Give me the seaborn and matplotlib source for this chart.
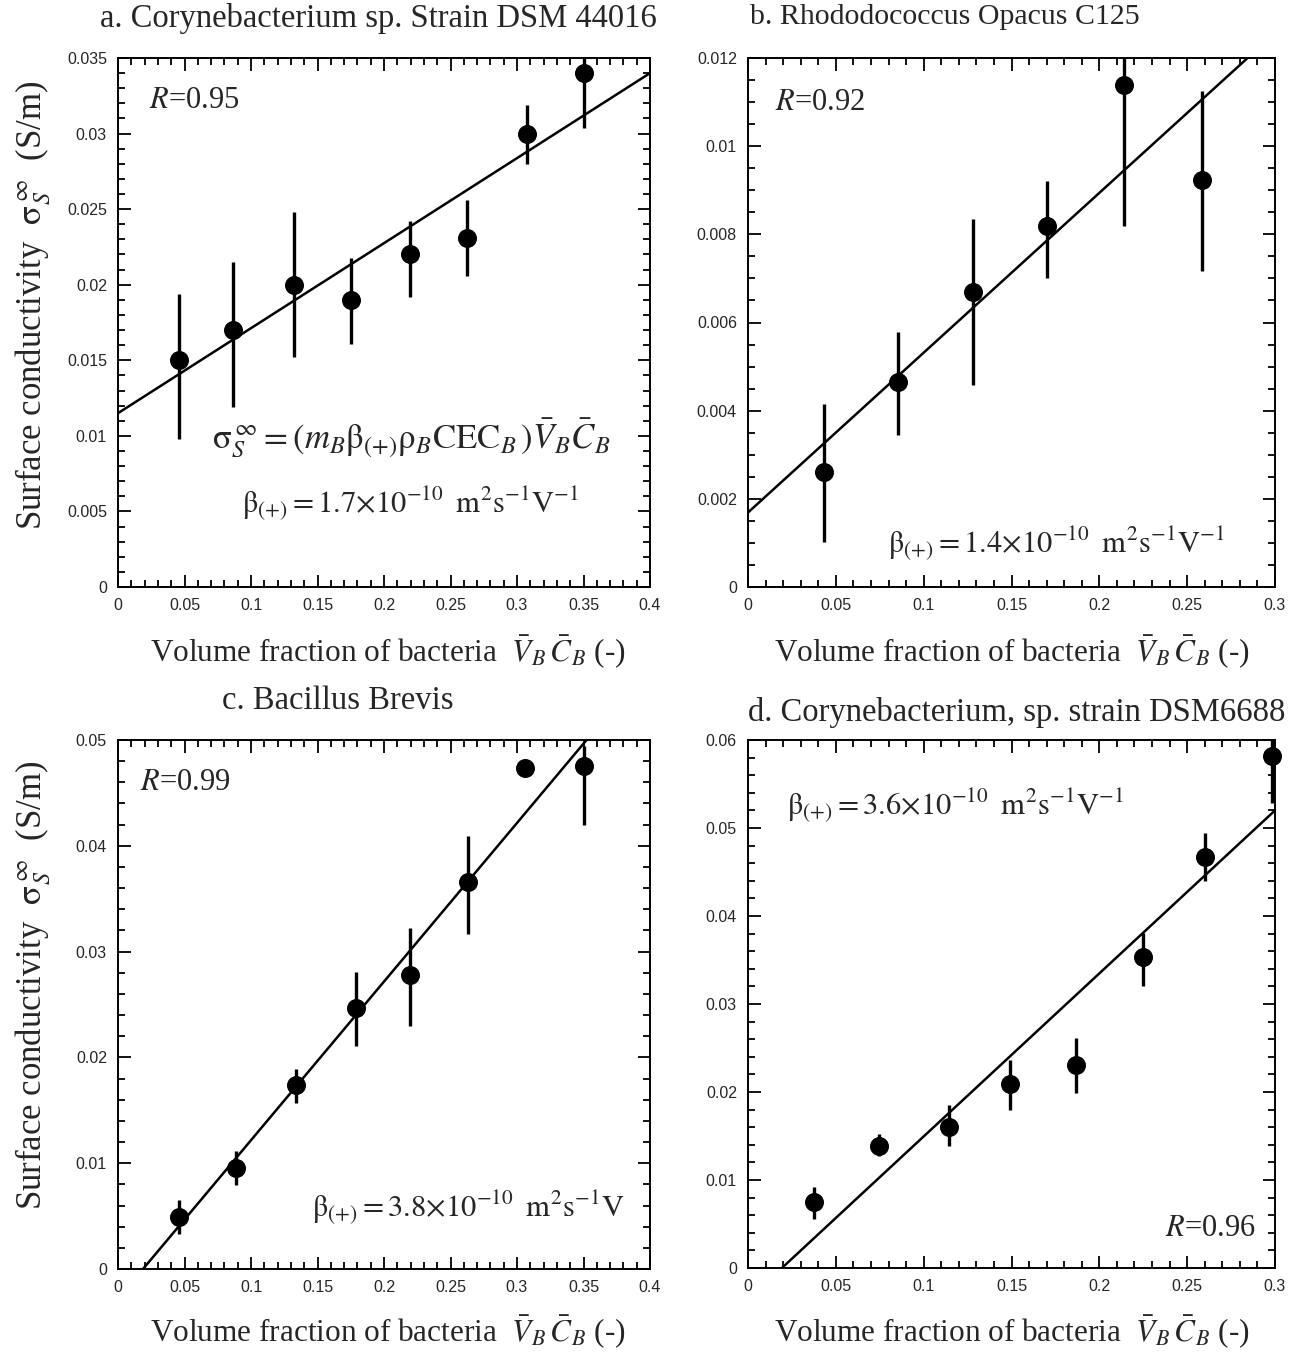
import numpy as np
import pandas as pd
import matplotlib
matplotlib.use("Agg")
import matplotlib.pyplot as plt
import seaborn as sns
from matplotlib.ticker import MultipleLocator, FuncFormatter

sns.set_theme(style="ticks")
plt.rcParams['font.family'] = ['Liberation Serif', 'DejaVu Serif']
plt.rcParams['mathtext.fontset'] = 'stix'

# ---------------- data ----------------
# panel a: Corynebacterium sp. Strain DSM 44016
a_x = [0.0457, 0.0864, 0.1325, 0.1754, 0.2199, 0.2627, 0.3072, 0.3501]
a_y = [0.0150, 0.0170, 0.0200, 0.0190, 0.0220, 0.0231, 0.0300, 0.0340]
a_lo = [0.0098, 0.0119, 0.0152, 0.0161, 0.0192, 0.0206, 0.0280, 0.0304]
a_hi = [0.0194, 0.0215, 0.0248, 0.0218, 0.0242, 0.0256, 0.0319, 0.0376]
a_fit_x = [0.0, 0.4]
a_fit_y = [0.0115, 0.0340]

# panel b: Rhodococcus Opacus C125
b_x = [0.0432, 0.0852, 0.1282, 0.1700, 0.2141, 0.2582]
b_y = [0.00262, 0.00466, 0.00670, 0.00818, 0.01139, 0.00923]
b_lo = [0.00103, 0.00345, 0.00459, 0.00700, 0.00820, 0.00717]
b_hi = [0.00415, 0.00579, 0.00835, 0.00922, 0.01300, 0.01126]
b_fit_x = [0.0, 0.2844]
b_fit_y = [0.00169, 0.0120]

# panel c: Bacillus Brevis
c_x = [0.0458, 0.0888, 0.1337, 0.1788, 0.2192, 0.2632, 0.3061, 0.3500]
c_y = [0.00491, 0.00953, 0.01736, 0.02466, 0.02778, 0.03662, 0.04736, 0.04757]
c_lo = [0.00328, 0.00790, 0.01565, 0.02109, 0.02295, 0.03167, 0.04736, 0.04200]
c_hi = [0.00653, 0.01115, 0.01894, 0.02810, 0.03220, 0.04088, 0.04736, 0.04940]
c_fit_x = [0.0188, 0.3523]
c_fit_y = [0.0, 0.0500]

# panel d: Corynebacterium, sp. strain DSM6688
d_x = [0.0376, 0.0745, 0.1144, 0.1492, 0.1870, 0.2246, 0.2601, 0.2984]
d_y = [0.00745, 0.01392, 0.01606, 0.02092, 0.02302, 0.03538, 0.04667, 0.05815]
d_lo = [0.00560, 0.01270, 0.01387, 0.01790, 0.01985, 0.03200, 0.04394, 0.05280]
d_hi = [0.00925, 0.01523, 0.01854, 0.02360, 0.02618, 0.03810, 0.04944, 0.06000]
d_fit_x = [0.0193, 0.3000]
d_fit_y = [0.0, 0.0520]

titles = ["a. Corynebacterium sp. Strain DSM 44016",
          "b. Rhododococcus Opacus C125",
          "c. Bacillus Brevis",
          "d. Corynebacterium, sp. strain DSM6688"]
r_labels = ["0.95", "0.92", "0.99", "0.96"]
beta_values = ["1.7", "1.4", "3.8", "3.6"]

# ---------------- figure ----------------
W, H = 1303, 1353
fig = plt.figure(figsize=(W / 100, H / 100), dpi=100)


def px_rect(x0, y0, x1, y1):
    return [x0 / W, 1 - y1 / H, (x1 - x0) / W, (y1 - y0) / H]


def fx(x):
    return x / W


def fy(y):
    return 1 - y / H


panels = [
    dict(rect=(118, 58, 650, 587), x=a_x, y=a_y, lo=a_lo, hi=a_hi, fx=a_fit_x, fy=a_fit_y,
         xlim=0.4, ylim=0.035, ymaj=0.005, ymin=0.001),
    dict(rect=(748, 58, 1275, 587), x=b_x, y=b_y, lo=b_lo, hi=b_hi, fx=b_fit_x, fy=b_fit_y,
         xlim=0.3, ylim=0.012, ymaj=0.002, ymin=0.0005),
    dict(rect=(118, 740, 650, 1269), x=c_x, y=c_y, lo=c_lo, hi=c_hi, fx=c_fit_x, fy=c_fit_y,
         xlim=0.4, ylim=0.05, ymaj=0.01, ymin=0.002),
    dict(rect=(748, 740, 1275, 1268), x=d_x, y=d_y, lo=d_lo, hi=d_hi, fx=d_fit_x, fy=d_fit_y,
         xlim=0.3, ylim=0.06, ymaj=0.01, ymin=0.002),
]

fmt = FuncFormatter(lambda v, p: "0" if abs(v) < 1e-12 else ("%g" % round(v, 6)))

axes = []
for p in panels:
    ax = fig.add_axes(px_rect(*p['rect']))
    axes.append(ax)
    df = pd.DataFrame({'x': p['x'], 'y': p['y']})
    yerr = [np.array(p['y']) - np.array(p['lo']), np.array(p['hi']) - np.array(p['y'])]
    ax.errorbar(p['x'], p['y'], yerr=yerr, fmt='none', ecolor='black', elinewidth=2.4,
                capsize=0, zorder=3)
    fit = pd.DataFrame({'x': p['fx'], 'y': p['fy']})
    sns.lineplot(data=fit, x='x', y='y', ax=ax, color='black', linewidth=1.8, zorder=2)
    sns.scatterplot(data=df, x='x', y='y', ax=ax, color='black', edgecolor='black',
                    s=160, zorder=4, clip_on=False, legend=False)
    ax.set_xlim(0, p['xlim'])
    ax.set_ylim(0, p['ylim'])
    ax.set_xlabel('')
    ax.set_ylabel('')
    ax.xaxis.set_major_locator(MultipleLocator(0.05))
    ax.xaxis.set_minor_locator(MultipleLocator(0.01))
    ax.yaxis.set_major_locator(MultipleLocator(p['ymaj']))
    ax.yaxis.set_minor_locator(MultipleLocator(p['ymin']))
    ax.xaxis.set_major_formatter(fmt)
    ax.yaxis.set_major_formatter(fmt)
    ax.tick_params(which='both', direction='in', top=True, right=True, color='black',
                   width=1.3)
    ax.tick_params(which='major', length=9, labelsize=11.5, pad=8)
    ax.tick_params(which='minor', length=5)
    for lab in ax.get_xticklabels() + ax.get_yticklabels():
        lab.set_fontfamily('Liberation Sans')
    for s in ax.spines.values():
        s.set_linewidth(1.4)
        s.set_color('black')
    ax.set_facecolor('white')

# titles
title_pos = [(378, 18), (945, 17), (338, 701), (1017, 712)]
title_sizes = [23.5, 21.5, 23.5, 23.5]
for t, (x, y), fs in zip(titles, title_pos, title_sizes):
    fig.text(fx(x), fy(y), t, ha='center', va='center', fontsize=fs)

# axis labels
xlab = r'Volume fraction of bacteria  $\bar{V}_B\,\bar{C}_B$ (-)'
for (x, y) in [(388, 652), (1012, 652), (388, 1332), (1012, 1332)]:
    fig.text(fx(x), fy(y), xlab, ha='center', va='center', fontsize=22.5)
ylab = r'Surface conductivity  $\mathrm{\sigma}_S^{\,\infty}$  (S/m)'
for (x, y) in [(33, 305), (33, 985)]:
    fig.text(fx(x), fy(y), ylab, ha='center', va='center', rotation=90, fontsize=25)

# R values
r_pos = [(194, 100), (820, 103), (185, 783), (1210, 1228)]
for r, (x, y) in zip(r_labels, r_pos):
    fig.text(fx(x), fy(y), r'$R$=' + r, ha='center', va='center', fontsize=22)

# beta texts
beta_pos = [(410, 503), (1056, 543), (468, 1207), (955, 805)]
for i, (b, (x, y)) in enumerate(zip(beta_values, beta_pos)):
    tail = r'\mathrm{V}^{-1}' if i != 2 else r'\mathrm{V}'
    s = (r'$\mathrm{\beta}_{(+)} = \mathrm{' + b + r'}{\times}\mathrm{10}^{-10}\;\;\mathrm{m}^{2}\mathrm{s}^{-1}'
         + tail + '$')
    fig.text(fx(x), fy(y), s, ha='center', va='center', fontsize=22)

# formula in panel a
formula = (r'$\mathrm{\sigma}_S^{\,\infty} = \left(m_B\mathrm{\beta}_{(+)}\mathrm{\rho}_B\mathrm{CEC}_B\,\right)'
           r'\bar{V}_B\bar{C}_B$')
fig.text(fx(411), fy(438), formula, ha='center', va='center', fontsize=25)

fig.savefig('out.png', dpi=100, facecolor='white')
